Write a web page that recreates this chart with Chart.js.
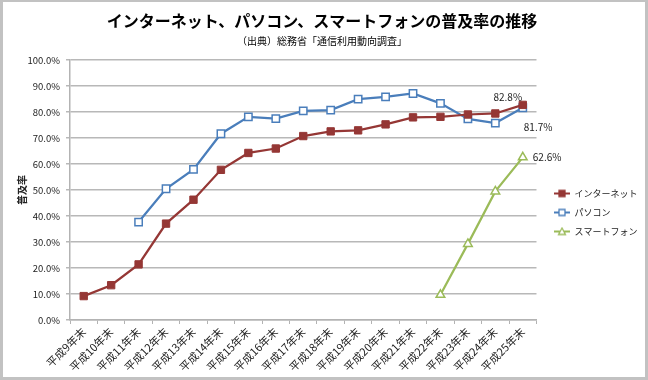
<!DOCTYPE html>
<html>
<head>
<meta charset="utf-8">
<script src="https://cdn.jsdelivr.net/npm/chart.js@4/dist/chart.umd.min.js"></script>
<style>
  html, body { margin: 0; padding: 0; background: #fff; }
</style>
</head>
<body>
<canvas id="chart" width="648" height="380"></canvas>
<script>
// 年次（各年末）
const years = ['平成9年末', '平成10年末', '平成11年末', '平成12年末', '平成13年末', '平成14年末',
  '平成15年末', '平成16年末', '平成17年末', '平成18年末', '平成19年末', '平成20年末',
  '平成21年末', '平成22年末', '平成23年末', '平成24年末', '平成25年末'];

// 普及率（%）
const internet = [9.2, 13.4, 21.4, 37.1, 46.3, 57.8, 64.3, 66.0, 70.8, 72.6, 73.0, 75.3, 78.0, 78.2, 79.1, 79.5, 82.8];
const pc = [null, null, 37.7, 50.5, 58.0, 71.7, 78.2, 77.5, 80.5, 80.8, 85.0, 85.9, 87.2, 83.4, 77.4, 75.8, 81.7];
const smartphone = [null, null, null, null, null, null, null, null, null, null, null, null, null, 9.7, 29.3, 49.5, 62.6];

const seriesNames = ['インターネット', 'パソコン', 'スマートフォン'];
const yMin = 0, yMax = 100, yStep = 10;

const FONT = '"Noto Sans CJK JP", "Noto Sans", sans-serif';
const RED = '#953735', BLUE = '#4a7ebb', GREEN = '#9bbb59';

// 凡例用の線＋マーカー
function legendIcon(color, style, fill) {
  const c = document.createElement('canvas');
  c.width = 16; c.height = 10;
  const g = c.getContext('2d');
  g.strokeStyle = color; g.lineWidth = 2;
  g.beginPath(); g.moveTo(0, 5); g.lineTo(16, 5); g.stroke();
  g.fillStyle = fill; g.lineWidth = 1.3;
  g.beginPath();
  if (style === 'triangle') {
    g.moveTo(8, 1.5); g.lineTo(11.5, 8); g.lineTo(4.5, 8); g.closePath();
  } else {
    g.rect(5, 2, 6, 6);
  }
  g.fill(); g.stroke();
  return c;
}
const icons = [legendIcon(RED, 'rect', RED), legendIcon(BLUE, 'rect', '#fff'), legendIcon(GREEN, 'triangle', '#fff')];

// 外枠
const frame = {
  id: 'frame',
  beforeDraw(chart) {
    const { ctx, width, height } = chart;
    ctx.save();
    ctx.fillStyle = '#c2c2c2';
    ctx.fillRect(0, 0, width, height);
    ctx.fillStyle = '#fff';
    ctx.fillRect(3, 2, width - 6, height - 5);
    ctx.restore();
  }
};

// タイトルを中央に、凡例を右下寄りに置き直す
const placement = {
  id: 'placement',
  afterLayout(chart) {
    chart.boxes.forEach(b => {
      if (b.position === 'top' && b.options && b.options.text) {
        b.left = 0; b.right = 644;
      }
    });
    const lg = chart.legend;
    const dx = 544 - lg.left, dy = 23;
    lg.left += dx; lg.right += dx;
    lg.top += dy; lg.bottom += dy;
  }
};

// 最終年の値ラベル
const endLabels = {
  id: 'endLabels',
  afterDatasetsDraw(chart, args, opts) {
    const { ctx } = chart;
    ctx.save();
    ctx.font = '10px ' + FONT;
    ctx.fillStyle = '#222';
    ctx.textBaseline = 'middle';
    opts.items.forEach(item => {
      const meta = chart.getDatasetMeta(item.ds);
      const data = chart.data.datasets[item.ds].data;
      const i = data.length - 1;
      const pt = meta.data[i];
      ctx.textAlign = item.align;
      ctx.fillText(data[i].toFixed(1) + '%', pt.x + item.dx, pt.y + item.dy);
    });
    ctx.restore();
  }
};

new Chart(document.getElementById('chart'), {
  type: 'line',
  data: {
    labels: years,
    datasets: [
      {
        label: seriesNames[0], data: internet,
        borderColor: RED, backgroundColor: RED, borderWidth: 2.25,
        pointStyle: 'rect', pointRadius: 5.2, pointBorderWidth: 1, pointBackgroundColor: RED, pointBorderColor: RED
      },
      {
        label: seriesNames[1], data: pc,
        borderColor: BLUE, backgroundColor: '#fff', borderWidth: 2.25,
        pointStyle: 'rect', pointRadius: 5.2, pointBorderWidth: 1.5, pointBackgroundColor: '#fff', pointBorderColor: BLUE
      },
      {
        label: seriesNames[2], data: smartphone,
        borderColor: GREEN, backgroundColor: '#fff', borderWidth: 2.25,
        pointStyle: 'triangle', pointRadius: 5, pointBorderWidth: 1.5, pointBackgroundColor: '#fff', pointBorderColor: GREEN
      }
    ]
  },
  options: {
    responsive: false,
    animation: false,
    spanGaps: false,
    layout: { padding: { left: 3, right: 8, top: 2, bottom: 3 } },
    plugins: {
      title: {
        display: true,
        text: 'インターネット、パソコン、スマートフォンの普及率の推移',
        color: '#000',
        font: { family: FONT, size: 16, weight: 'bold' },
        padding: { top: 9, bottom: 1 }
      },
      subtitle: {
        display: true,
        text: '（出典）総務省「通信利用動向調査」',
        color: '#000',
        font: { family: FONT, size: 10 },
        padding: { top: 4, bottom: 13 }
      },
      legend: {
        position: 'right',
        labels: {
          usePointStyle: true,
          pointStyleWidth: 16,
          color: '#222',
          font: { family: FONT, size: 9 },
          padding: 10,
          generateLabels: chart => Chart.defaults.plugins.legend.labels.generateLabels(chart)
            .map((l, i) => Object.assign(l, { pointStyle: icons[i] }))
        }
      },
      tooltip: { enabled: false },
      endLabels: {
        items: [
          { ds: 0, dx: -15, dy: -8, align: 'center' },
          { ds: 1, dx: 1, dy: 19, align: 'left' },
          { ds: 2, dx: 10, dy: 0, align: 'left' }
        ]
      }
    },
    scales: {
      x: {
        offset: true,
        afterFit: s => { s.height = 57; },
        grid: { display: true, drawOnChartArea: false, offset: true, tickLength: 4, color: '#b3b3b3' },
        border: { color: '#b3b3b3', width: 1.5 },
        ticks: {
          autoSkip: false, minRotation: 45, maxRotation: 45, padding: 1,
          color: '#222', font: { family: FONT, size: 11 }
        }
      },
      y: {
        min: yMin, max: yMax,
        afterFit: s => { s.width = 67; },
        grid: { color: '#b8b8b8', lineWidth: 1.5, tickLength: 4 },
        border: { color: '#b3b3b3', width: 1.5 },
        ticks: {
          stepSize: yStep, padding: 6,
          color: '#222', font: { family: FONT, size: 9.5 },
          callback: v => v.toFixed(1) + '%'
        },
        title: {
          display: true, text: '普及率', color: '#222',
          font: { family: FONT, size: 10, weight: 'bold' },
          padding: { top: 13, bottom: 0 }
        }
      }
    }
  },
  plugins: [frame, placement, endLabels]
});
</script>
</body>
</html>
